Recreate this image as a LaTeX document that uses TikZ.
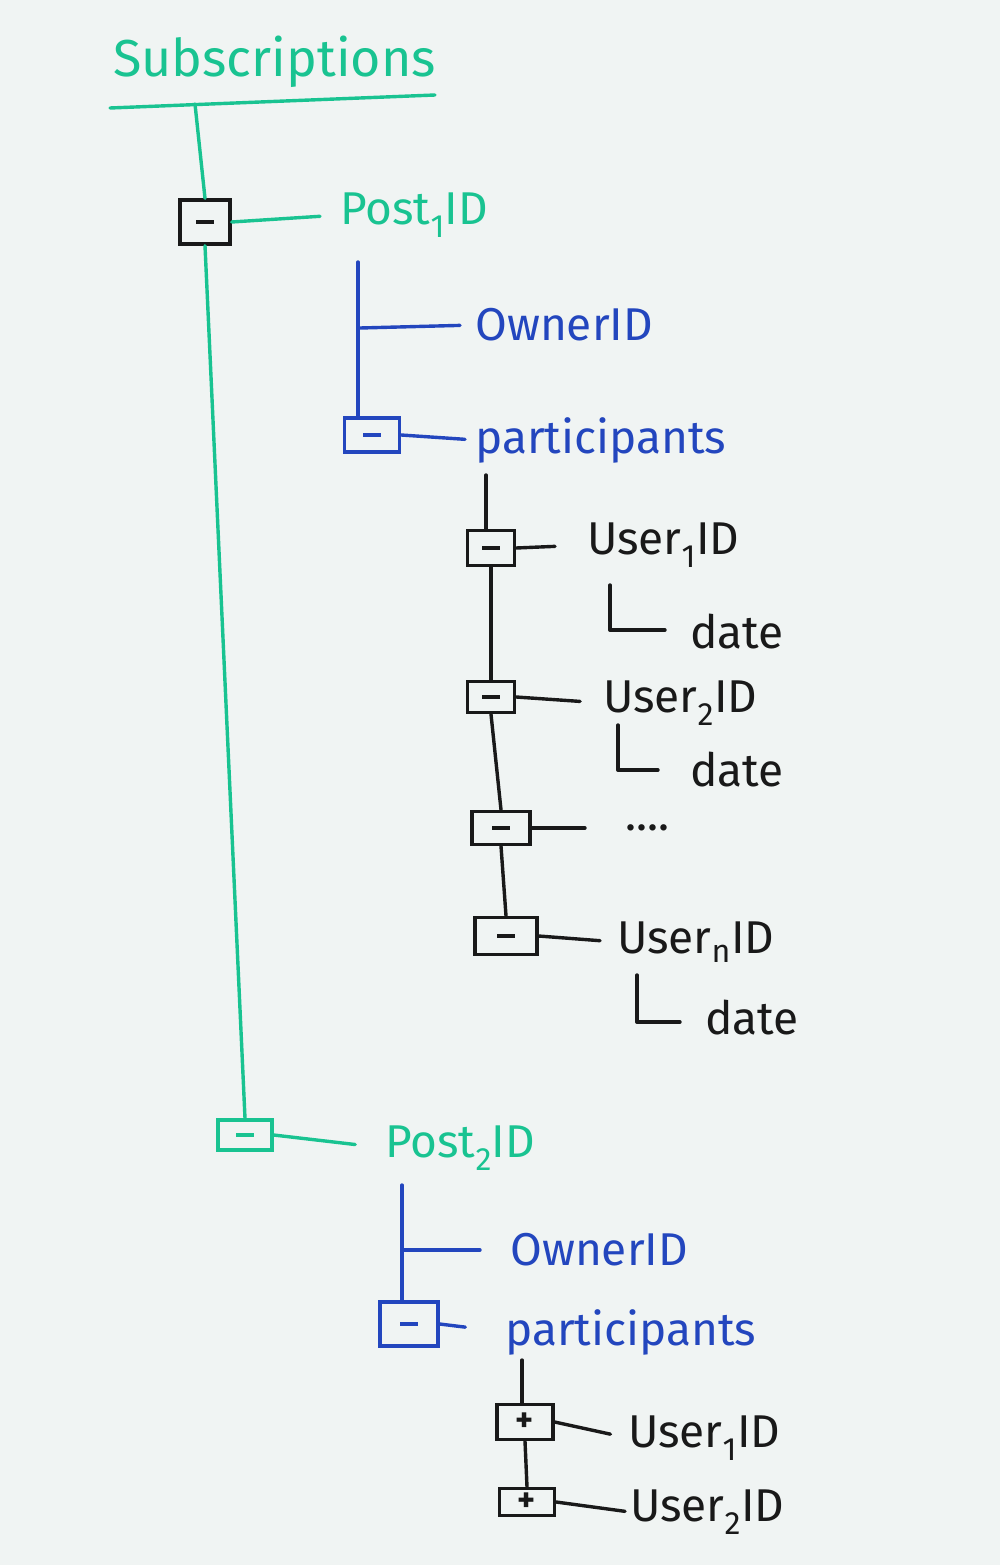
\documentclass[tikz,border=0pt]{standalone}
\usepackage{fontspec}
\setmainfont{Fira Sans}
\definecolor{mkgreen}{RGB}{25,195,145}
\definecolor{mkblue}{RGB}{35,70,190}
\definecolor{mkblack}{RGB}{25,25,25}
\definecolor{board}{RGB}{240,244,243}
\newcommand{\mkminus}{\rule{18pt}{3.5pt}}
\begin{document}
\begin{tikzpicture}[x=1pt,y=-1pt,
  wire/.style={line width=3.4pt, line cap=round, line join=round},
  tbox/.style={draw, line width=3.4pt, inner sep=0pt, font=\fontsize{34}{34}\selectfont\bfseries},
  lbl/.style={anchor=west, inner sep=0pt, font=\fontsize{46}{46}\selectfont},
  title/.style={anchor=west, inner sep=0pt, font=\fontsize{52}{52}\selectfont}
]
\fill[board] (0,0) rectangle (1000,1565);
\useasboundingbox (0,0) rectangle (1000,1565);

% ---------- title ----------
\node[title, mkgreen] (subs) at (113,62) {Subscriptions};
\coordinate (ulA) at (110,108);
\coordinate (ulB) at (435,95);
\draw[wire, mkgreen] (ulA) -- (ulB);
\coordinate (trunk) at (195,104);

% ---------- Post1 ----------
\node[tbox, mkblack, minimum width=50pt, minimum height=44pt] (b1) at (205,222) {\mkminus};
\node[lbl, mkgreen] (post1) at (340,215) {Post\textsubscript{1}ID};
\draw[wire, mkgreen] (trunk) -- (b1.north);
\draw[wire, mkgreen, shorten >=20pt] (b1.east) -- (post1.west);

\coordinate (v1) at (358,262);
\coordinate (j1) at (360,328);
\node[lbl, mkblue] (owner1) at (475,325) {OwnerID};
\node[tbox, mkblue, minimum width=55pt, minimum height=34pt] (bp1) at (372,435) {\mkminus};
\node[lbl, mkblue] (part1) at (475,440) {participants};
\draw[wire, mkblue] (v1) -- (v1 |- bp1.north);
\draw[wire, mkblue, shorten >=15pt] (j1) -- (owner1.west);
\draw[wire, mkblue, shorten >=10pt] (bp1.east) -- (part1.west);

% participants of Post1
\coordinate (v2) at (486,475);
\node[tbox, mkblack, minimum width=47pt, minimum height=35pt] (u1) at (491,548) {\mkminus};
\node[lbl, mkblack] (user1) at (587,545) {User\textsubscript{1}ID};
\coordinate (d1a) at (610,585);
\coordinate (d1b) at (665,630);
\node[lbl, mkblack] (date1) at (690,632) {date};

\node[tbox, mkblack, minimum width=47pt, minimum height=31pt] (u2) at (491,697) {\mkminus};
\node[lbl, mkblack] (user2) at (603,703) {User\textsubscript{2}ID};
\coordinate (d2a) at (618,725);
\coordinate (d2b) at (658,770);
\node[lbl, mkblack] (date2) at (690,770) {date};

\node[tbox, mkblack, minimum width=58pt, minimum height=33pt] (u3) at (501,828) {\mkminus};
\node[lbl, mkblack] (dots) at (625,828) {....};

\node[tbox, mkblack, minimum width=62pt, minimum height=37pt] (u4) at (506,936) {\mkminus};
\node[lbl, mkblack] (usern) at (617,942) {User\textsubscript{n}ID};
\coordinate (dna) at (637,975);
\coordinate (dnb) at (680,1022);
\node[lbl, mkblack] (daten) at (705,1018) {date};

\draw[wire, mkblack] (v2) -- (v2 |- u1.north);
\draw[wire, mkblack] (u1.south) -- (u2.north);
\draw[wire, mkblack] (u2.south) -- (u3.north);
\draw[wire, mkblack] (u3.south) -- (u4.north);
\draw[wire, mkblack, shorten >=32pt] (u1.east) -- (user1.west);
\draw[wire, mkblack, shorten >=23pt] (u2.east) -- (user2.west);
\draw[wire, mkblack, shorten >=40pt] (u3.east) -- (dots.west);
\draw[wire, mkblack, shorten >=17pt] (u4.east) -- (usern.west);
\draw[wire, mkblack] (d1a) |- (d1b);
\draw[wire, mkblack] (d2a) |- (d2b);
\draw[wire, mkblack] (dna) |- (dnb);

% ---------- Post2 ----------
\node[tbox, mkgreen, minimum width=54pt, minimum height=30pt] (b2) at (245,1135) {\mkminus};
\node[lbl, mkgreen] (post2) at (385,1148) {Post\textsubscript{2}ID};
\draw[wire, mkgreen] (b1.south) -- (b2.north);
\draw[wire, mkgreen, shorten >=30pt] (b2.east) -- (post2.west);

\coordinate (v3) at (402,1185);
\coordinate (j3) at (402,1250);
\node[lbl, mkblue] (owner2) at (510,1250) {OwnerID};
\node[tbox, mkblue, minimum width=58pt, minimum height=44pt] (bp2) at (409,1324) {\mkminus};
\node[lbl, mkblue] (part2) at (505,1332) {participants};
\draw[wire, mkblue] (v3) -- (v3 |- bp2.north);
\draw[wire, mkblue, shorten >=30pt] (j3) -- (owner2.west);
\draw[wire, mkblue, shorten >=40pt] (bp2.east) -- (part2.west);

\coordinate (v4) at (522,1360);
\node[tbox, mkblack, minimum width=56pt, minimum height=35pt] (w1) at (525,1422) {+};
\node[lbl, mkblack] (wuser1) at (628,1438) {User\textsubscript{1}ID};
\node[tbox, mkblack, minimum width=55pt, minimum height=27pt] (w2) at (527,1502) {+};
\node[lbl, mkblack] (wuser2) at (630,1512) {User\textsubscript{2}ID};
\draw[wire, mkblack] (v4) -- (v4 |- w1.north);
\draw[wire, mkblack] (w1.south) -- (w2.north);
\draw[wire, mkblack, shorten >=18pt] (w1.east) -- (wuser1.west);
\draw[wire, mkblack, shorten >=5pt] (w2.east) -- (wuser2.west);
\end{tikzpicture}
\end{document}
